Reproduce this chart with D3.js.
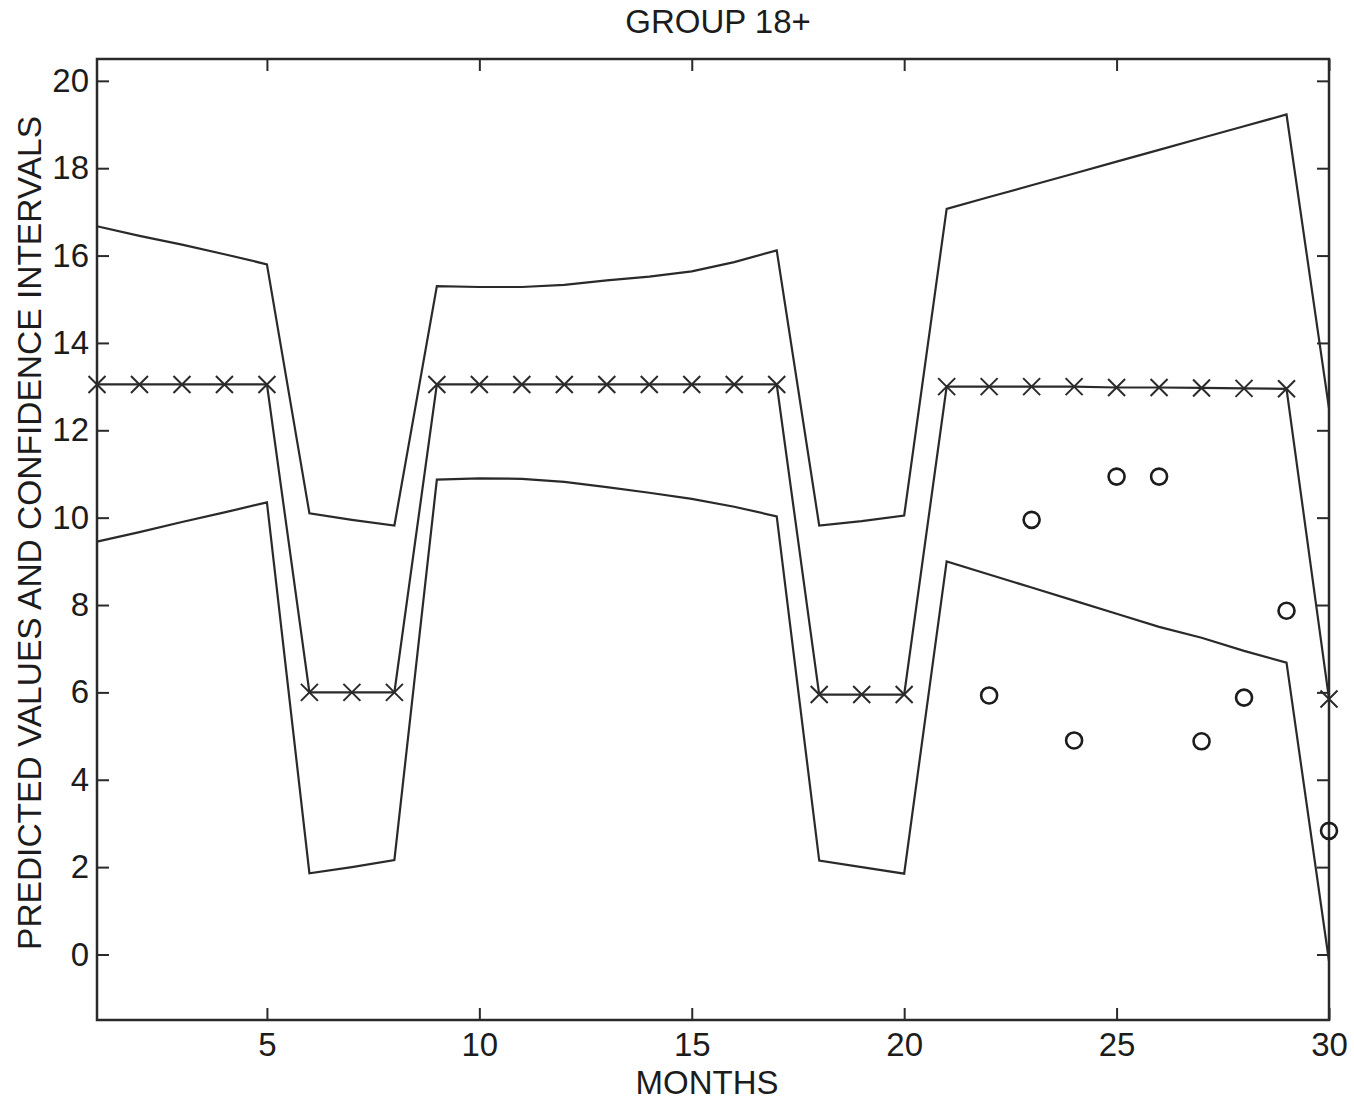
<!DOCTYPE html>
<html>
<head>
<meta charset="utf-8">
<script src="https://cdn.jsdelivr.net/npm/d3@7"></script>
<style>
  html, body { margin: 0; padding: 0; background: #fff; }
  svg { display: block; }
  text { font-family: "Liberation Sans", Arial, Helvetica, sans-serif; fill: #1c1c1c; }
</style>
</head>
<body>
<script>
// ---- data ----
const months = [1,2,3,4,5,6,7,8,9,10,11,12,13,14,15,16,17,18,19,20,21,22,23,24,25,26,27,28,29,30];
const predicted = [13.05,13.05,13.05,13.05,13.05, 6.0,6.0,6.0,
  13.05,13.05,13.05,13.05,13.05,13.05,13.05,13.05,13.05, 5.95,5.95,5.95,
  13.0,13.0,13.0,13.0,12.98,12.98,12.97,12.96,12.95, 5.85];
const upperCI = [16.67,16.45,16.25,16.03,15.8, 10.1,9.95,9.82,
  15.3,15.28,15.28,15.33,15.43,15.52,15.64,15.85,16.12, 9.82,9.92,10.05,
  17.07,17.34,17.61,17.88,18.15,18.42,18.69,18.96,19.23, 12.5];
const lowerCI = [9.45,9.67,9.9,10.12,10.35, 1.86,2.0,2.16,
  10.87,10.9,10.89,10.82,10.7,10.57,10.43,10.25,10.03, 2.15,2.0,1.85,
  9.0,8.7,8.4,8.1,7.8,7.5,7.25,6.95,6.68, -0.15];
const obsMonths = [22,23,24,25,26,27,28,29,30];
const observed = [5.93,9.95,4.9,10.94,10.94,4.88,5.88,7.87,2.83];
const xTicks = [5,10,15,20,25,30];
const yTicks = [0,2,4,6,8,10,12,14,16,18,20];
const titleText = "GROUP 18+";
const xLabel = "MONTHS";
const yLabel = "PREDICTED VALUES AND CONFIDENCE INTERVALS";

// ---- layout ----
const W = 1354, H = 1103;
const L = 97, R = 1329, T = 59, B = 1020;
const ink = "#2a2a2a";
const fs = 33;

const svg = d3.select("body").append("svg").attr("width", W).attr("height", H);

const x = d3.scaleLinear().domain([1, 30]).range([L, R]);
const y = d3.scaleLinear().domain([-1.5, 20.5]).range([B, T]);

// frame
svg.append("rect").attr("x", L).attr("y", T).attr("width", R - L).attr("height", B - T)
  .attr("fill", "none").attr("stroke", ink).attr("stroke-width", 2.5);

function styleAxis(g) {
  g.select(".domain").remove();
  g.selectAll(".tick line").attr("stroke", ink).attr("stroke-width", 2);
  g.selectAll(".tick text").attr("font-size", fs).attr("fill", "#1c1c1c")
    .attr("font-family", '"Liberation Sans", Arial, Helvetica, sans-serif');
}

svg.append("g").attr("transform", `translate(${L},0)`)
  .call(d3.axisLeft(y).tickValues(yTicks).tickSize(-12).tickPadding(8).tickFormat(d3.format("d")))
  .call(styleAxis);
svg.append("g").attr("transform", `translate(${R},0)`)
  .call(d3.axisRight(y).tickValues(yTicks).tickSize(-12).tickFormat(""))
  .call(styleAxis);
svg.append("g").attr("transform", `translate(0,${B})`)
  .call(d3.axisBottom(x).tickValues(xTicks).tickSize(-12).tickPadding(13).tickFormat(d3.format("d")))
  .call(styleAxis);
svg.append("g").attr("transform", `translate(0,${T})`)
  .call(d3.axisTop(x).tickValues(xTicks).tickSize(-12).tickFormat(""))
  .call(styleAxis);

// lines
const line = d3.line().x((d, i) => x(months[i])).y(d => y(d));
[upperCI, lowerCI, predicted].forEach(arr => {
  svg.append("path").datum(arr).attr("d", line)
    .attr("fill", "none").attr("stroke", ink).attr("stroke-width", 2.2)
    .attr("stroke-linejoin", "miter");
});

// x markers for predicted
const s = 8.5;
const xm = svg.append("g");
predicted.forEach((v, i) => {
  const cx = x(months[i]), cy = y(v);
  xm.append("path")
    .attr("d", `M${cx - s},${cy - s}L${cx + s},${cy + s}M${cx - s},${cy + s}L${cx + s},${cy - s}`)
    .attr("stroke", ink).attr("stroke-width", 2).attr("fill", "none");
});

// observed circles
svg.append("g").selectAll("circle").data(observed).join("circle")
  .attr("cx", (d, i) => x(obsMonths[i])).attr("cy", d => y(d)).attr("r", 8)
  .attr("fill", "none").attr("stroke", "#1c1c1c").attr("stroke-width", 2.6);

// texts
svg.append("text").attr("x", 718).attr("y", 33).attr("text-anchor", "middle")
  .attr("font-size", fs).text(titleText);
svg.append("text").attr("x", 707).attr("y", 1094).attr("text-anchor", "middle")
  .attr("font-size", fs).text(xLabel);
svg.append("text").attr("transform", `translate(41,533) rotate(-90)`).attr("text-anchor", "middle")
  .attr("font-size", fs + 0.5).text(yLabel);
</script>
</body>
</html>
